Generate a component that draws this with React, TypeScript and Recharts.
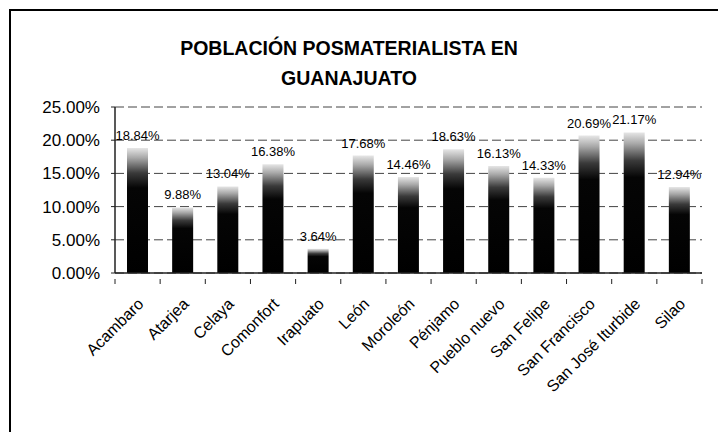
import React from "react";
import { BarChart, Bar, XAxis, YAxis, CartesianGrid, LabelList } from "recharts";

const categories = [
  "Acambaro",
  "Atarjea",
  "Celaya",
  "Comonfort",
  "Irapuato",
  "León",
  "Moroleón",
  "Pénjamo",
  "Pueblo nuevo",
  "San Felipe",
  "San Francisco",
  "San José Iturbide",
  "Silao",
];
const values = [18.84, 9.88, 13.04, 16.38, 3.64, 17.68, 14.46, 18.63, 16.13, 14.33, 20.69, 21.17, 12.94];
const yTicks = [0, 5, 10, 15, 20, 25];
const titleLines = ["POBLACIÓN POSMATERIALISTA EN", "GUANAJUATO"];

const data = categories.map((name, i) => ({ name, value: values[i] }));

const FONT = "'Liberation Sans', Arial, Helvetica, sans-serif";

const XTick = (props: any) => {
  const { x, y, payload, index } = props;
  const half = payload && payload.offset != null ? payload.offset : 22.6;
  const isLast = index === categories.length - 1;
  return (
    <g>
      <line x1={x - half} y1={y - 2} x2={x - half} y2={y + 3} stroke="#222" strokeWidth={1} />
      {isLast && <line x1={x + half} y1={y - 2} x2={x + half} y2={y + 3} stroke="#222" strokeWidth={1} />}
      <g transform={`translate(${x + 3},${y + 20})`}>
        <text
          transform="rotate(-45)"
          textAnchor="end"
          x={0}
          y={0}
          dy="0.35em"
          fontSize={16}
          fontFamily={FONT}
          fill="#000"
        >
          {payload.value}
        </text>
      </g>
    </g>
  );
};

export default function App() {
  return (
    <div>
      <style>{`html,body{overflow:hidden}`}</style>
      <div
        style={{
          position: "absolute",
          left: 9,
          top: 9,
          width: 709,
          height: 423,
          borderTop: "2px solid #000",
          borderLeft: "2px solid #000",
          boxSizing: "border-box",
          background: "#fff",
        }}
      >
        <div
          style={{
            position: "absolute",
            left: 0,
            width: 676,
            top: 22,
            textAlign: "center",
            fontFamily: FONT,
            fontWeight: "bold",
            fontSize: 19.5,
            lineHeight: "30px",
            color: "#000",
          }}
        >
          {titleLines.map((l) => (
            <div key={l}>{l}</div>
          ))}
        </div>
        <div style={{ position: "absolute", left: -1, top: -1 }}>
          <BarChart
            width={708}
            height={422}
            data={data}
            margin={{ top: 97, right: 16, left: 0, bottom: 0 }}
          >
            <defs>
              <linearGradient id="barFade" x1="0" y1="0" x2="0" y2="1">
                <stop offset="0" stopColor="#e6e6e6" />
                <stop offset="0.08" stopColor="#a8a8a8" />
                <stop offset="0.2" stopColor="#3a3a3a" />
                <stop offset="0.32" stopColor="#050505" />
                <stop offset="1" stopColor="#000" />
              </linearGradient>
            </defs>
            <CartesianGrid vertical={false} stroke="#444" strokeDasharray="9 4" />
            <XAxis
              dataKey="name"
              interval={0}
              height={159}
              tickLine={false}
              axisLine={{ stroke: "#222", strokeWidth: 1.5 }}
              tick={<XTick />}
            />
            <YAxis
              width={105}
              domain={[0, 25]}
              ticks={yTicks}
              interval={0}
              tickFormatter={(v: number) => v.toFixed(2) + "%"}
              tick={{ fontSize: 17, fontFamily: FONT, fill: "#000" }}
              tickSize={4}
              tickMargin={11}
              tickLine={{ stroke: "#222" }}
              axisLine={{ stroke: "#222", strokeWidth: 1.5 }}
            />
            <Bar dataKey="value" barSize={21} fill="url(#barFade)" isAnimationActive={false}>
              <LabelList
                dataKey="value"
                position="top"
                offset={8}
                formatter={(v: any) => Number(v).toFixed(2) + "%"}
                style={{ fontSize: 13, fontFamily: FONT, fill: "#000" }}
              />
            </Bar>
          </BarChart>
        </div>
      </div>
    </div>
  );
}
